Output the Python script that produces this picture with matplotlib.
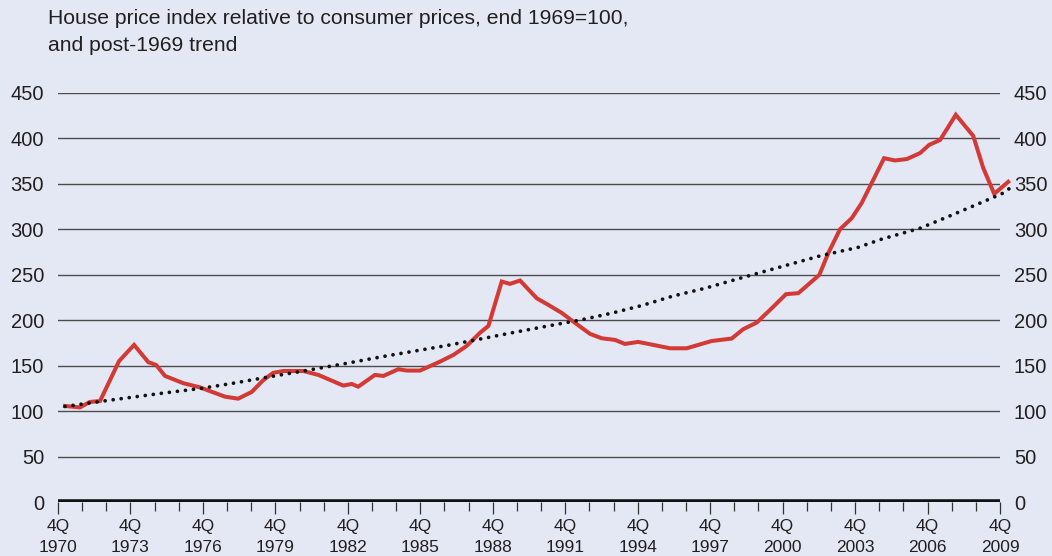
import matplotlib.pyplot as plt
import numpy as np

plt.rcParams['font.family'] = ['Liberation Sans', 'DejaVu Sans']

# house price index relative to consumer prices (quarter positions as decimal years)
hpi_years = [1971.04, 1971.66, 1972.07, 1972.49, 1973.28, 1973.90, 1974.49, 1974.81,
             1975.18, 1975.94, 1976.63, 1977.66, 1978.21, 1978.77, 1979.25, 1979.66,
             1980.08, 1980.91, 1981.53, 1982.56, 1982.91, 1983.18, 1983.87, 1984.22,
             1984.84, 1985.19, 1985.74, 1986.57, 1987.12, 1987.67, 1988.22, 1988.57,
             1989.12, 1989.46, 1989.88, 1990.57, 1991.05, 1991.60, 1992.08, 1992.78,
             1993.26, 1993.81, 1994.22, 1994.77, 1995.40, 1996.09, 1996.78, 1997.81,
             1998.64, 1999.12, 1999.68, 2000.30, 2000.89, 2001.40, 2002.27, 2002.64,
             2003.13, 2003.61, 2004.02, 2004.50, 2004.95, 2005.40, 2005.89, 2006.44,
             2006.82, 2007.27, 2007.92, 2008.64, 2009.06, 2009.51, 2010.09]
hpi_values = [105.6, 104, 110, 111, 155, 172.7, 153.7, 150.7,
              138.6, 130.6, 126, 115.8, 113.6, 121, 134, 142,
              144, 144, 139.7, 128, 129.8, 126.8, 139.7, 138.6,
              146, 144.5, 144.5, 154.4, 161.7, 171.6, 186, 193.6,
              242.4, 239.8, 243.5, 224, 216.7, 208, 198.4, 184.8,
              180, 178.2, 173.8, 176, 172.7, 169, 169, 177,
              179.7, 190, 197.3, 213, 228.5, 229.6, 249.7, 273.6,
              300, 312, 328.6, 354, 378, 375.5, 377, 383.6,
              392.7, 398, 425.7, 402.6, 367, 338.8, 352]

# post-1969 trend
trend_years = [1971.04, 1972.77, 1975.04, 1976.70, 1978.01, 1979.32, 1980.91, 1982.56,
               1984.22, 1985.53, 1986.84, 1987.81, 1989.46, 1991.05, 1992.36, 1993.67,
               1994.92, 1996.22, 1997.54, 1999.12, 2000.71, 2002.30, 2003.88, 2004.85,
               2006.44, 2007.68, 2008.92, 2009.82, 2010.16]
trend_values = [105, 111.5, 119.5, 125, 130.6, 136.8, 144, 151.8,
                160, 166, 172, 177, 185.6, 193.6, 200, 207.6,
                216, 226.5, 235, 247, 258.8, 270.6, 280, 289,
                301, 314.6, 328.6, 338.8, 345]

tick_years = list(range(1970, 2010, 3))
tick_labels = [f'4Q\n{y}' for y in tick_years]
y_ticks = list(range(0, 451, 50))

bg = '#e4e8f5'
text_col = '#231f20'

fig = plt.figure(figsize=(10.52, 5.56), dpi=100)
fig.patch.set_facecolor(bg)
ax = fig.add_axes([58 / 1052, 1 - 502 / 556, 942 / 1052, (502 - 92.7) / 556])
ax.set_facecolor(bg)

ax.set_xlim(1970.75, 2009.75)
ax.set_ylim(0, 450)

# grid and the heavy zero line
for v in y_ticks[1:]:
    ax.axhline(v, color='#4d4d4d', lw=1.0, zorder=1)
ax.axhline(0, color='#111111', lw=4.0, zorder=4, solid_capstyle='butt')

ax.plot(trend_years, trend_values, color='#111111', lw=2.7,
        linestyle=(0, (0.01, 2.15)), dash_capstyle='round', zorder=3, clip_on=False)
ax.plot(hpi_years, hpi_values, color='#d43a35', lw=2.9, zorder=2,
        solid_joinstyle='miter', clip_on=False)

for s in ax.spines.values():
    s.set_visible(False)

ax.set_xticks([y + 0.75 for y in tick_years])
ax.set_xticklabels(tick_labels)
ax.set_xticks(np.arange(1970.75, 2009.8, 1.0), minor=True)
ax.tick_params(axis='x', which='major', length=8.5, width=0.9, color='#333333',
               labelsize=12.5, labelcolor=text_col, pad=3.5)
ax.tick_params(axis='x', which='minor', length=6.3, width=0.9, color='#333333')
for lab in ax.get_xticklabels():
    lab.set_linespacing(1.5)

ax.set_yticks(y_ticks)
ax.tick_params(axis='y', length=0, labelsize=14.5, labelcolor=text_col,
               labelleft=True, labelright=True, pad=10)

fig.text(48 / 1052, 1 - 9 / 556,
         'House price index relative to consumer prices, end 1969=100,\nand post-1969 trend',
         ha='left', va='top', fontsize=15.2, color=text_col, linespacing=1.55)

fig.savefig('out.png', dpi=100, facecolor=bg)
